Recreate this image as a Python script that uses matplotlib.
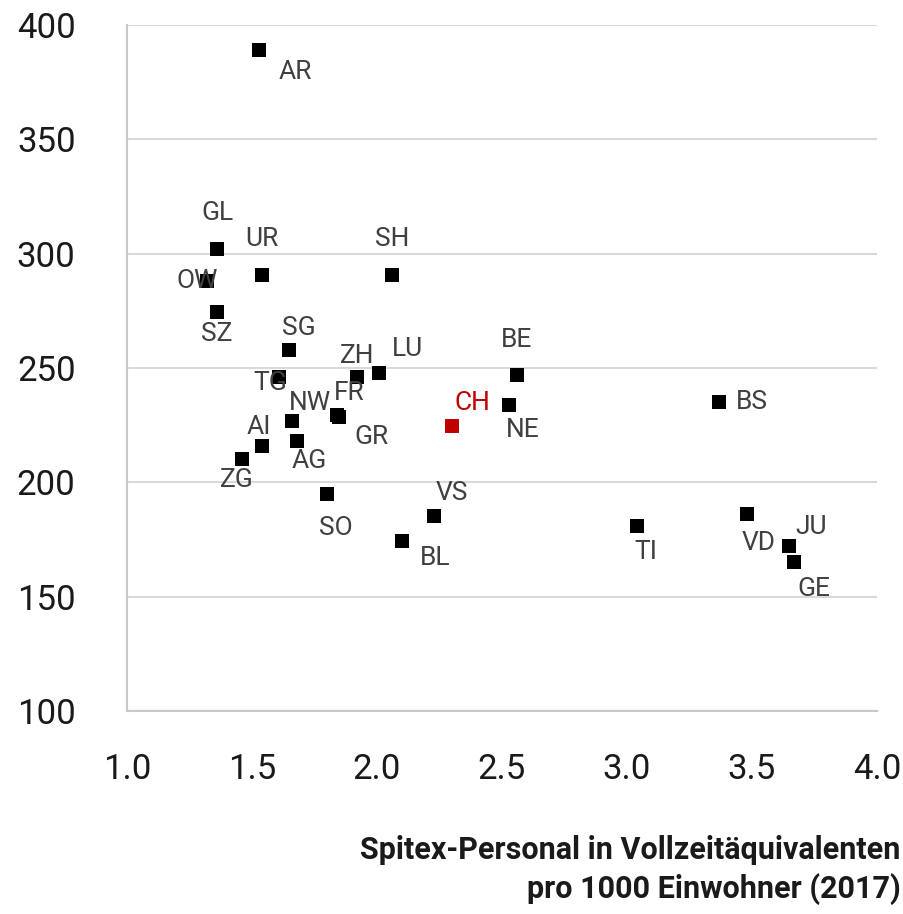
import numpy as np
import matplotlib.pyplot as plt

### Data
cantons = ['AR', 'GL', 'UR', 'SH', 'OW', 'SZ', 'SG', 'TG', 'ZH', 'LU', 'NW', 'FR',
           'GR', 'AI', 'AG', 'ZG', 'SO', 'VS', 'BL', 'BE', 'NE', 'BS', 'TI', 'VD',
           'JU', 'GE']
spitex = [1.53, 1.36, 1.54, 2.06, 1.32, 1.36, 1.65, 1.61, 1.92, 2.01, 1.66, 1.84,
          1.85, 1.54, 1.68, 1.46, 1.80, 2.23, 2.10, 2.56, 2.53, 3.37, 3.04, 3.48,
          3.65, 3.67]
heime = [389, 302, 290.5, 290.5, 288, 274.5, 258, 246, 246, 248, 227, 229.5,
         228.5, 216, 218, 210, 195, 185.5, 174.5, 247, 234, 235, 181, 186,
         172, 165]
ch_x, ch_y = 2.30, 224.5

# label offsets in pixels (dx, dy; dy positive = down)
offsets = {'AR': (36, 22), 'GL': (0, -36), 'UR': (0, -36), 'SH': (0, -36),
           'OW': (-10, 0), 'SZ': (0, 22), 'SG': (9, -22), 'TG': (-9, 6),
           'ZH': (0, -21), 'LU': (28, -24), 'NW': (18, -18), 'FR': (12, -22),
           'GR': (32, 20), 'AI': (-3, -19), 'AG': (12, 20), 'ZG': (-5, 21),
           'SO': (9, 34), 'VS': (17, -23), 'BL': (33, 17), 'BE': (0, -35),
           'NE': (13, 25), 'BS': (32, 0), 'TI': (9, 26), 'VD': (12, 29),
           'JU': (22, -19), 'GE': (19, 27)}

plt.rcParams['font.family'] = ['Roboto', 'DejaVu Sans']

fig = plt.figure(figsize=(9.04, 9.14), dpi=100)
ax = fig.add_axes([0.1405, 0.2221, 0.8295, 0.7505])

ax.scatter(spitex, heime, marker='s', s=100, color='black', zorder=3, linewidths=0)
ax.scatter([ch_x], [ch_y], marker='s', s=100, color='#c00000', zorder=3, linewidths=0)

px = 0.72
for name, x, y in zip(cantons, spitex, heime):
    dx, dy = offsets[name]
    ax.annotate(name, (x, y), xytext=(dx * px, -dy * px), textcoords='offset points',
                ha='center', va='center', fontsize=19, color='#404040')
ax.annotate('CH', (ch_x, ch_y), xytext=(20 * px, 23 * px), textcoords='offset points',
            ha='center', va='center', fontsize=19, color='#c00000')

ax.set_xlim(1.0, 4.0)
ax.set_ylim(100, 400)
ax.set_xticks(np.arange(1.0, 4.01, 0.5))
ax.set_xticklabels([f'{v:.1f}' for v in np.arange(1.0, 4.01, 0.5)])
ax.set_yticks(np.arange(100, 401, 50))
ax.yaxis.grid(True, color='#d9d9d9', linewidth=1.5)
ax.set_axisbelow(True)
for s in ['top', 'right']:
    ax.spines[s].set_visible(False)
for s in ['left', 'bottom']:
    ax.spines[s].set_color('#c8c8c8')
    ax.spines[s].set_linewidth(1.5)
ax.tick_params(length=0, labelsize=25, colors='#1a1a1a')
ax.tick_params(axis='y', pad=37)
ax.tick_params(axis='x', pad=30)

fig.text(0.996, 0.010, 'Spitex-Personal in Vollzeitäquivalenten\npro 1000 Einwohner (2017)',
         ha='right', va='bottom', multialignment='right', fontsize=22,
         fontweight='bold', color='#1a1a1a', linespacing=1.3)

fig.savefig('out.png', dpi=100)
